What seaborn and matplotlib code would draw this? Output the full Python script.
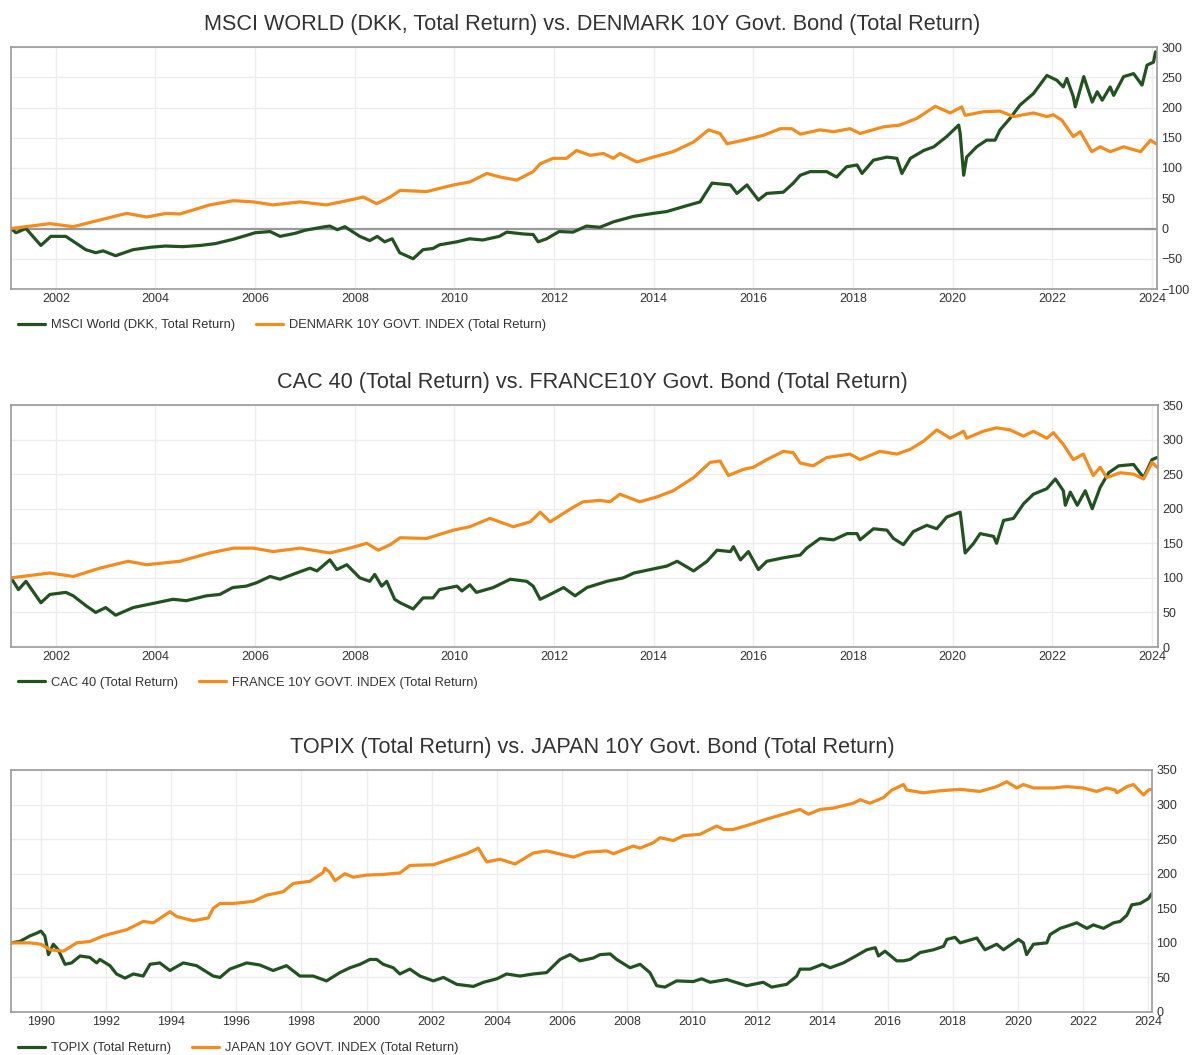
import matplotlib
matplotlib.use("Agg")
import matplotlib.pyplot as plt
import seaborn as sns

# ---------------------------------------------------------
# data (decimal years, index values)
# ---------------------------------------------------------
titles = [
    "MSCI WORLD (DKK, Total Return) vs. DENMARK 10Y Govt. Bond (Total Return)",
    "CAC 40 (Total Return) vs. FRANCE10Y Govt. Bond (Total Return)",
    "TOPIX (Total Return) vs. JAPAN 10Y Govt. Bond (Total Return)",
]
stock_labels = ["MSCI World (DKK, Total Return)", "CAC 40 (Total Return)", "TOPIX (Total Return)"]
bond_labels = ["DENMARK 10Y GOVT. INDEX (Total Return)", "FRANCE 10Y GOVT. INDEX (Total Return)",
               "JAPAN 10Y GOVT. INDEX (Total Return)"]

# 1) MSCI World vs Denmark 10Y (% return)
msci_x = [2001.1, 2001.2, 2001.4, 2001.7, 2001.9, 2002.2, 2002.6, 2002.8, 2002.95, 2003.2,
          2003.55, 2003.9, 2004.2, 2004.55, 2004.9, 2005.2, 2005.55, 2005.8, 2006.0, 2006.3,
          2006.5, 2006.8, 2007.0, 2007.4, 2007.5, 2007.65, 2007.8, 2007.95, 2008.1, 2008.3,
          2008.45, 2008.6, 2008.75, 2008.9, 2009.17, 2009.37, 2009.57, 2009.7, 2010.05, 2010.3,
          2010.57, 2010.9, 2011.05, 2011.38, 2011.58, 2011.68, 2011.85, 2012.1, 2012.38, 2012.65,
          2012.92, 2013.19, 2013.59, 2013.99, 2014.26, 2014.59, 2014.93, 2015.17, 2015.54, 2015.67,
          2015.87, 2016.1, 2016.27, 2016.6, 2016.8, 2016.94, 2017.14, 2017.47, 2017.67, 2017.87,
          2018.08, 2018.18, 2018.41, 2018.68, 2018.88, 2018.98, 2019.15, 2019.42, 2019.62, 2019.88,
          2020.12, 2020.15, 2020.22, 2020.28, 2020.48, 2020.68, 2020.85, 2020.95, 2021.15, 2021.35,
          2021.62, 2021.89, 2022.09, 2022.22, 2022.29, 2022.42, 2022.46, 2022.63, 2022.8, 2022.9,
          2023.0, 2023.16, 2023.23, 2023.43, 2023.63, 2023.8, 2023.9, 2024.03, 2024.07]
msci_y = [0, -7, 0, -28, -13, -13, -35, -40, -37, -45,
          -35, -31, -29, -30, -28, -25, -18, -12, -7, -5,
          -13, -8, -3, 3, 4, -2, 3, -5, -13, -20,
          -13, -22, -17, -40, -50, -35, -33, -27, -22, -17,
          -19, -13, -6, -9, -10, -22, -17, -5, -6, 4,
          2, 11, 20, 25, 28, 36, 44, 75, 72, 58,
          72, 47, 58, 60, 75, 88, 94, 94, 85, 102,
          105, 91, 113, 118, 116, 91, 116, 129, 135, 152,
          171, 157, 88, 118, 135, 146, 146, 163, 182, 204,
          223, 253, 245, 234, 248, 218, 201, 251, 209, 226,
          212, 234, 220, 251, 256, 237, 270, 275, 292]
dk_x = [2001.1, 2001.88, 2002.35, 2002.88, 2003.42, 2003.82, 2004.22, 2004.49, 2005.09, 2005.56,
        2005.96, 2006.36, 2006.9, 2007.43, 2007.9, 2008.17, 2008.44, 2008.71, 2008.91, 2009.44,
        2009.98, 2010.31, 2010.65, 2010.92, 2011.25, 2011.58, 2011.72, 2011.98, 2012.25, 2012.45,
        2012.72, 2012.99, 2013.19, 2013.32, 2013.66, 2013.99, 2014.39, 2014.8, 2015.1, 2015.33,
        2015.47, 2015.8, 2016.2, 2016.54, 2016.77, 2016.94, 2017.34, 2017.61, 2017.94, 2018.14,
        2018.61, 2018.94, 2019.28, 2019.65, 2019.95, 2020.18, 2020.25, 2020.61, 2020.95, 2021.22,
        2021.62, 2021.89, 2022.02, 2022.19, 2022.42, 2022.56, 2022.79, 2022.96, 2023.16, 2023.43,
        2023.77, 2023.97, 2024.08]
dk_y = [0, 8, 3, 14, 25, 19, 25, 24, 39, 46,
        44, 39, 44, 39, 47, 52, 41, 52, 63, 61,
        72, 77, 91, 85, 80, 94, 107, 116, 116, 129,
        121, 124, 116, 124, 110, 118, 127, 143, 163, 157,
        140, 146, 154, 165, 165, 156, 163, 160, 165, 157,
        168, 171, 182, 202, 191, 201, 187, 193, 194, 185,
        191, 185, 188, 179, 152, 160, 127, 135, 127, 135,
        127, 146, 140]

# 2) CAC 40 vs France 10Y (base 100)
cac_x = [2001.1, 2001.25, 2001.4, 2001.7, 2001.88, 2002.2, 2002.35, 2002.6, 2002.8, 2003.0,
         2003.2, 2003.55, 2003.95, 2004.35, 2004.62, 2005.02, 2005.29, 2005.55, 2005.82, 2006.03,
         2006.3, 2006.5, 2006.83, 2007.1, 2007.24, 2007.5, 2007.64, 2007.84, 2008.1, 2008.3,
         2008.4, 2008.54, 2008.64, 2008.8, 2008.91, 2009.17, 2009.37, 2009.57, 2009.7, 2010.05,
         2010.15, 2010.31, 2010.44, 2010.78, 2011.12, 2011.45, 2011.58, 2011.72, 2011.92, 2012.19,
         2012.42, 2012.66, 2013.06, 2013.39, 2013.6, 2013.93, 2014.26, 2014.47, 2014.8, 2015.07,
         2015.27, 2015.54, 2015.6, 2015.74, 2015.9, 2016.1, 2016.27, 2016.6, 2016.94, 2017.07,
         2017.34, 2017.61, 2017.88, 2018.08, 2018.14, 2018.41, 2018.68, 2018.81, 2019.01, 2019.21,
         2019.48, 2019.68, 2019.88, 2020.15, 2020.25, 2020.42, 2020.55, 2020.82, 2020.88, 2021.02,
         2021.22, 2021.42, 2021.62, 2021.89, 2022.06, 2022.22, 2022.26, 2022.36, 2022.5, 2022.66,
         2022.8, 2022.96, 2023.13, 2023.33, 2023.63, 2023.83, 2024.0, 2024.1]
cac_y = [100, 83, 95, 64, 76, 79, 74, 60, 50, 57,
         46, 57, 63, 69, 67, 74, 76, 86, 88, 93,
         102, 98, 107, 114, 110, 126, 112, 119, 100, 95,
         105, 88, 95, 69, 64, 55, 71, 71, 83, 88,
         81, 90, 79, 86, 98, 95, 88, 69, 76, 86,
         74, 86, 95, 100, 107, 112, 117, 124, 110, 124,
         140, 138, 145, 126, 138, 112, 124, 129, 133, 143,
         157, 155, 164, 164, 155, 171, 169, 157, 148, 167,
         176, 171, 188, 195, 136, 150, 164, 160, 150, 183,
         186, 207, 221, 229, 243, 226, 205, 224, 205, 226,
         200, 231, 252, 262, 264, 245, 271, 274]
fr_x = [2001.1, 2001.88, 2002.35, 2002.88, 2003.45, 2003.82, 2004.49, 2005.09, 2005.56, 2005.96,
        2006.36, 2006.9, 2007.5, 2007.9, 2008.24, 2008.47, 2008.71, 2008.91, 2009.44, 2009.98,
        2010.31, 2010.71, 2011.18, 2011.52, 2011.72, 2011.92, 2012.38, 2012.58, 2012.92, 2013.12,
        2013.32, 2013.72, 2014.06, 2014.39, 2014.8, 2015.13, 2015.33, 2015.5, 2015.8, 2016.0,
        2016.27, 2016.6, 2016.8, 2016.94, 2017.2, 2017.47, 2017.94, 2018.14, 2018.54, 2018.88,
        2019.15, 2019.42, 2019.68, 2019.95, 2020.22, 2020.28, 2020.61, 2020.88, 2021.15, 2021.42,
        2021.62, 2021.89, 2022.02, 2022.22, 2022.42, 2022.62, 2022.82, 2022.96, 2023.09, 2023.36,
        2023.63, 2023.83, 2024.0, 2024.1]
fr_y = [100, 107, 102, 114, 124, 119, 124, 136, 143, 143,
        138, 143, 136, 143, 150, 140, 148, 158, 157, 169,
        174, 186, 174, 181, 195, 181, 202, 210, 212, 210,
        221, 210, 217, 226, 245, 267, 269, 248, 257, 260,
        271, 283, 281, 266, 262, 274, 279, 271, 283, 279,
        286, 298, 314, 302, 312, 302, 312, 317, 314, 305,
        312, 302, 310, 293, 271, 279, 248, 260, 245, 252,
        250, 243, 267, 260]

# 3) TOPIX vs Japan 10Y (base 100)
topix_x = [1989.08, 1989.35, 1989.66, 1989.87, 1990.0, 1990.12, 1990.23, 1990.38, 1990.53, 1990.74,
           1990.94, 1991.2, 1991.5, 1991.71, 1991.81, 1992.12, 1992.32, 1992.58, 1992.84, 1993.14,
           1993.35, 1993.65, 1993.96, 1994.37, 1994.78, 1995.29, 1995.5, 1995.8, 1996.32, 1996.72,
           1997.13, 1997.54, 1997.95, 1998.36, 1998.77, 1999.18, 1999.49, 1999.8, 2000.1, 2000.31,
           2000.51, 2000.82, 2001.02, 2001.33, 2001.64, 2002.05, 2002.36, 2002.77, 2003.28, 2003.59,
           2004.0, 2004.3, 2004.71, 2005.12, 2005.53, 2005.94, 2006.25, 2006.55, 2006.96, 2007.17,
           2007.48, 2007.68, 2008.09, 2008.4, 2008.7, 2008.91, 2009.16, 2009.52, 2010.03, 2010.29,
           2010.55, 2011.06, 2011.67, 2012.18, 2012.44, 2012.9, 2013.21, 2013.31, 2013.62, 2014.0,
           2014.24, 2014.64, 2014.95, 2015.36, 2015.62, 2015.72, 2015.92, 2016.28, 2016.49, 2016.69,
           2017.0, 2017.41, 2017.72, 2017.82, 2018.07, 2018.23, 2018.74, 2018.99, 2019.35, 2019.56,
           2020.02, 2020.17, 2020.27, 2020.48, 2020.89, 2020.99, 2021.3, 2021.5, 2021.81, 2022.12,
           2022.32, 2022.63, 2022.94, 2023.14, 2023.35, 2023.5, 2023.76, 2024.01, 2024.11]
topix_y = [100, 102, 110, 114, 117, 110, 83, 98, 90, 69,
           71, 81, 79, 71, 76, 67, 55, 49, 55, 52,
           69, 71, 60, 71, 67, 52, 50, 62, 71, 68,
           60, 67, 52, 52, 45, 57, 64, 69, 76, 76,
           69, 64, 55, 62, 52, 45, 50, 40, 37, 43,
           48, 55, 52, 55, 57, 76, 83, 74, 78, 83,
           84, 76, 64, 69, 57, 38, 36, 45, 44, 48,
           43, 47, 38, 43, 36, 40, 52, 62, 62, 69,
           64, 71, 79, 90, 93, 81, 88, 74, 74, 76,
           86, 90, 95, 105, 108, 100, 107, 90, 98, 90,
           105, 100, 83, 98, 100, 112, 121, 124, 129, 121,
           126, 121, 129, 131, 140, 155, 157, 164, 171]
jp_x = [1989.08, 1989.66, 1990.0, 1990.28, 1990.69, 1991.1, 1991.5, 1991.91, 1992.22, 1992.63,
        1993.14, 1993.45, 1993.96, 1994.17, 1994.68, 1995.14, 1995.29, 1995.5, 1995.91, 1996.52,
        1996.93, 1997.44, 1997.75, 1998.26, 1998.67, 1998.72, 1998.87, 1999.03, 1999.33, 1999.59,
        2000.0, 2000.51, 2001.02, 2001.33, 2002.05, 2002.56, 2003.07, 2003.43, 2003.69, 2004.1,
        2004.56, 2005.12, 2005.53, 2006.35, 2006.76, 2007.37, 2007.58, 2008.19, 2008.4, 2008.81,
        2009.01, 2009.42, 2009.73, 2010.24, 2010.75, 2010.96, 2011.26, 2011.77, 2012.29, 2012.8,
        2013.31, 2013.57, 2013.93, 2014.34, 2014.95, 2015.16, 2015.46, 2015.87, 2016.13, 2016.49,
        2016.59, 2017.1, 2017.61, 2018.23, 2018.84, 2019.35, 2019.66, 2019.97, 2020.17, 2020.48,
        2021.09, 2021.5, 2022.01, 2022.42, 2022.73, 2022.99, 2023.04, 2023.35, 2023.55, 2023.86,
        2024.01, 2024.11]
jp_y = [100, 100, 98, 90, 88, 100, 102, 110, 114, 119,
        131, 129, 145, 138, 132, 136, 150, 157, 157, 160,
        169, 174, 186, 189, 202, 208, 202, 190, 200, 195,
        198, 199, 201, 212, 213, 221, 229, 237, 217, 221,
        214, 230, 233, 224, 231, 233, 229, 240, 237, 245,
        252, 248, 255, 257, 269, 264, 264, 271, 279, 286,
        293, 286, 293, 295, 302, 307, 302, 310, 321, 329,
        321, 317, 320, 322, 319, 326, 333, 324, 329, 324,
        324, 326, 324, 319, 324, 321, 317, 326, 329, 314,
        321, 322]

GREEN = "#22521f"
ORANGE = "#f28c1e"
TXT = "#333333"

sns.set_style("white")
plt.rcParams['font.family'] = ['Liberation Sans', 'DejaVu Sans']

fig = plt.figure(figsize=(11.92, 10.55), dpi=100)
W, H = 1192, 1055


def make_ax(left, top, right, bottom):
    return fig.add_axes([left / W, 1 - bottom / H, (right - left) / W, (bottom - top) / H])


panels = [
    dict(box=(11, 47, 1157, 289), xlim=(2001.1, 2024.1), ylim=(-100, 300), yt=range(-100, 301, 50),
         xt=range(2002, 2025, 2), s=(msci_x, msci_y), b=(dk_x, dk_y), zero=True, legy=325),
    dict(box=(11, 405, 1158, 647), xlim=(2001.1, 2024.12), ylim=(0, 350), yt=range(0, 351, 50),
         xt=range(2002, 2025, 2), s=(cac_x, cac_y), b=(fr_x, fr_y), zero=False, legy=683),
    dict(box=(11, 770, 1152, 1012), xlim=(1989.08, 2024.12), ylim=(0, 350), yt=range(0, 351, 50),
         xt=range(1990, 2025, 2), s=(topix_x, topix_y), b=(jp_x, jp_y), zero=False, legy=1048),
]

for i, p in enumerate(panels):
    ax = make_ax(*p["box"])
    ax.grid(True, color="#ededed", lw=1)
    ax.set_axisbelow(True)
    if p["zero"]:
        ax.axhline(0, color="#999999", lw=1.6, zorder=1)
    sns.lineplot(x=p["s"][0], y=p["s"][1], ax=ax, color=GREEN, lw=2.3, label=stock_labels[i])
    sns.lineplot(x=p["b"][0], y=p["b"][1], ax=ax, color=ORANGE, lw=2.3, label=bond_labels[i])
    ax.set_xlim(*p["xlim"])
    ax.set_ylim(*p["ylim"])
    ax.set_xticks(list(p["xt"]))
    ax.set_yticks(list(p["yt"]))
    ax.yaxis.tick_right()
    ax.tick_params(axis="both", length=0, labelsize=9, colors=TXT, pad=3)
    for sp in ax.spines.values():
        sp.set_color("#9a9a9a")
        sp.set_linewidth(1.2)
    ax.set_xlabel("")
    ax.set_ylabel("")
    bw = p["box"][2] - p["box"][0]
    ax.set_title(titles[i], fontsize=15.6, color=TXT, pad=12, x=(592 - p["box"][0]) / bw)
    bh = p["box"][3] - p["box"][1]
    ax.legend(loc="center left", bbox_to_anchor=(0.006, -(p["legy"] - p["box"][3]) / bh),
              ncol=2, frameon=False, fontsize=9.3, labelcolor=TXT, handlelength=2.1,
              handletextpad=0.45, columnspacing=1.6, borderpad=0, borderaxespad=0)

fig.savefig("out.png", dpi=100, facecolor="white")
